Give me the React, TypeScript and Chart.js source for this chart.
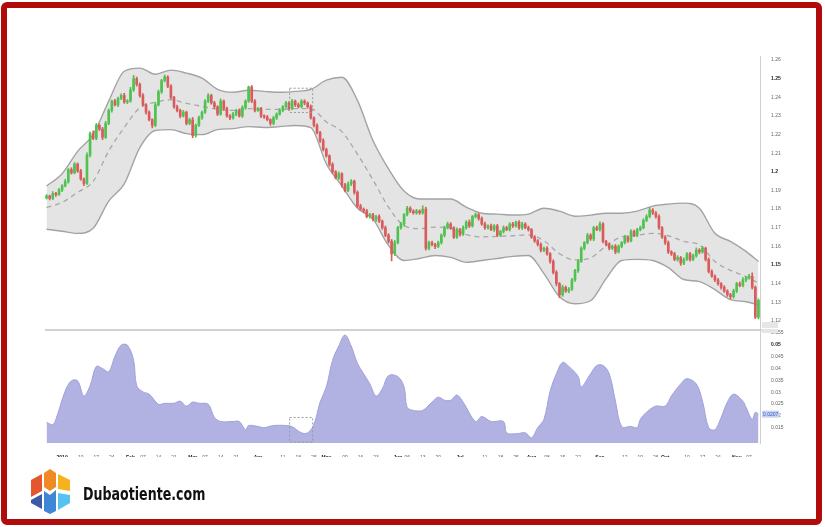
import React, { useEffect, useRef } from "react";
import { Chart, registerables } from "chart.js";
Chart.register(...registerables);

// ---------- DATA ----------
const START_DATE = "2018-12-26"; // first trading day shown (weekdays only)

const opens = [
  1.1860, 1.1870, 1.1858, 1.1884, 1.1878, 1.1902, 1.1925, 1.1948, 1.2012, 1.1995,
  1.2042, 1.2005, 1.1962, 1.1938, 1.2090, 1.2205, 1.2180, 1.2250, 1.2230, 1.2185,
  1.2260, 1.2330, 1.2380, 1.2360, 1.2395, 1.2410, 1.2375, 1.2380, 1.2440, 1.2500,
  1.2470, 1.2410, 1.2360, 1.2320, 1.2280, 1.2250, 1.2360, 1.2430, 1.2490, 1.2510,
  1.2460, 1.2400, 1.2350, 1.2330, 1.2300, 1.2320, 1.2260, 1.2280, 1.2195, 1.2250,
  1.2290, 1.2320, 1.2380, 1.2410, 1.2370, 1.2350, 1.2310, 1.2380, 1.2340, 1.2300,
  1.2290, 1.2310, 1.2330, 1.2300, 1.2345, 1.2380, 1.2455, 1.2380, 1.2330, 1.2340,
  1.2300, 1.2295, 1.2280, 1.2260, 1.2290, 1.2310, 1.2330, 1.2350, 1.2370, 1.2340,
  1.2380, 1.2360, 1.2350, 1.2380, 1.2370, 1.2350, 1.2290, 1.2250, 1.2210, 1.2168,
  1.2120, 1.2086, 1.2040, 1.2000, 1.1968, 1.1990, 1.1930, 1.1900, 1.1935, 1.1950,
  1.1890, 1.1816, 1.1800, 1.1790, 1.1760, 1.1770, 1.1745, 1.1760, 1.1735, 1.1700,
  1.1660, 1.1627, 1.1560, 1.1620, 1.1700, 1.1720, 1.1770, 1.1805, 1.1790, 1.1780,
  1.1790, 1.1780, 1.1800, 1.1590, 1.1620, 1.1610, 1.1600, 1.1620, 1.1660, 1.1700,
  1.1720, 1.1700, 1.1650, 1.1690, 1.1665, 1.1700, 1.1730, 1.1710, 1.1760, 1.1770,
  1.1750, 1.1720, 1.1700, 1.1710, 1.1690, 1.1710, 1.1660, 1.1680, 1.1700, 1.1690,
  1.1720, 1.1710, 1.1730, 1.1700, 1.1720, 1.1700, 1.1690, 1.1650, 1.1630, 1.1610,
  1.1580, 1.1590, 1.1560, 1.1520, 1.1460, 1.1400, 1.1340, 1.1380, 1.1360, 1.1370,
  1.1420, 1.1470, 1.1520, 1.1590, 1.1620, 1.1660, 1.1640, 1.1700, 1.1690, 1.1720,
  1.1627, 1.1610, 1.1590, 1.1600, 1.1570, 1.1600, 1.1620, 1.1650, 1.1630, 1.1680,
  1.1660, 1.1690, 1.1700, 1.1740, 1.1760, 1.1795, 1.1780, 1.1760, 1.1700, 1.1650,
  1.1620, 1.1570, 1.1560, 1.1530, 1.1540, 1.1510, 1.1530, 1.1560, 1.1530, 1.1550,
  1.1580, 1.1570, 1.1590, 1.1530, 1.1465, 1.1440, 1.1420, 1.1400, 1.1380, 1.1360,
  1.1340, 1.1330, 1.1360, 1.1400, 1.1390, 1.1420, 1.1430, 1.1440, 1.1380, 1.1220,
];

const closes = [
  1.1870, 1.1858, 1.1884, 1.1878, 1.1902, 1.1925, 1.1948, 1.2012, 1.1995, 1.2042,
  1.2005, 1.1962, 1.1938, 1.2090, 1.2205, 1.2180, 1.2250, 1.2230, 1.2185, 1.2260,
  1.2330, 1.2380, 1.2360, 1.2395, 1.2410, 1.2375, 1.2380, 1.2440, 1.2500, 1.2470,
  1.2410, 1.2360, 1.2320, 1.2280, 1.2250, 1.2360, 1.2430, 1.2490, 1.2510, 1.2460,
  1.2400, 1.2350, 1.2330, 1.2300, 1.2320, 1.2260, 1.2280, 1.2195, 1.2250, 1.2290,
  1.2320, 1.2380, 1.2410, 1.2370, 1.2350, 1.2310, 1.2380, 1.2340, 1.2300, 1.2290,
  1.2310, 1.2330, 1.2300, 1.2345, 1.2380, 1.2455, 1.2380, 1.2330, 1.2340, 1.2300,
  1.2295, 1.2280, 1.2260, 1.2290, 1.2310, 1.2330, 1.2350, 1.2370, 1.2340, 1.2380,
  1.2360, 1.2350, 1.2380, 1.2370, 1.2350, 1.2290, 1.2250, 1.2210, 1.2168, 1.2120,
  1.2086, 1.2040, 1.2000, 1.1968, 1.1990, 1.1930, 1.1900, 1.1935, 1.1950, 1.1890,
  1.1816, 1.1800, 1.1790, 1.1760, 1.1770, 1.1745, 1.1760, 1.1735, 1.1700, 1.1660,
  1.1627, 1.1560, 1.1620, 1.1700, 1.1720, 1.1770, 1.1805, 1.1790, 1.1780, 1.1790,
  1.1780, 1.1800, 1.1590, 1.1620, 1.1610, 1.1600, 1.1620, 1.1660, 1.1700, 1.1720,
  1.1700, 1.1650, 1.1690, 1.1665, 1.1700, 1.1730, 1.1710, 1.1760, 1.1770, 1.1750,
  1.1720, 1.1700, 1.1710, 1.1690, 1.1710, 1.1660, 1.1680, 1.1700, 1.1690, 1.1720,
  1.1710, 1.1730, 1.1700, 1.1720, 1.1700, 1.1690, 1.1650, 1.1630, 1.1610, 1.1580,
  1.1590, 1.1560, 1.1520, 1.1460, 1.1400, 1.1340, 1.1380, 1.1360, 1.1370, 1.1420,
  1.1470, 1.1520, 1.1590, 1.1620, 1.1660, 1.1640, 1.1700, 1.1690, 1.1720, 1.1627,
  1.1610, 1.1590, 1.1600, 1.1570, 1.1600, 1.1620, 1.1650, 1.1630, 1.1680, 1.1660,
  1.1690, 1.1700, 1.1740, 1.1760, 1.1795, 1.1780, 1.1760, 1.1700, 1.1650, 1.1620,
  1.1570, 1.1560, 1.1530, 1.1540, 1.1510, 1.1530, 1.1560, 1.1530, 1.1550, 1.1580,
  1.1570, 1.1590, 1.1530, 1.1465, 1.1440, 1.1420, 1.1400, 1.1380, 1.1360, 1.1340,
  1.1330, 1.1360, 1.1400, 1.1390, 1.1420, 1.1430, 1.1440, 1.1380, 1.1220, 1.1310,
];

// wick lengths beyond the body, in pips
const upperWickPips = [
  8, 5, 10, 6, 9, 7, 12, 6, 10, 8, 6, 9, 5, 12, 8, 15, 10, 7, 9, 11,
  8, 6, 10, 7, 9, 12, 8, 14, 18, 9, 7, 10, 6, 8, 5, 12, 9, 7, 10, 6,
  8, 5, 9, 7, 10, 6, 8, 12, 7, 9, 6, 8, 10, 7, 9, 5, 12, 6, 8, 7,
  9, 6, 8, 10, 7, 6, 9, 8, 5, 7, 6, 8, 5, 9, 7, 10, 6, 8, 7, 9,
  6, 10, 8, 7, 5, 9, 6, 8, 7, 10, 8, 6, 9, 7, 10, 5, 8, 12, 9, 6,
  8, 10, 6, 9, 7, 8, 6, 10, 7, 9, 8, 10, 12, 7, 9, 6, 10, 8, 7, 9,
  6, 18, 10, 8, 9, 6, 8, 7, 9, 10, 8, 6, 9, 7, 10, 8, 12, 6, 9, 7,
  8, 10, 6, 9, 7, 8, 6, 10, 8, 7, 9, 6, 8, 10, 7, 9, 6, 8, 7, 9,
  6, 9, 7, 8, 10, 6, 12, 7, 9, 8, 7, 9, 8, 6, 10, 8, 7, 9, 12, 8,
  6, 9, 7, 10, 8, 6, 9, 7, 10, 8, 7, 9, 8, 10, 14, 8, 7, 9, 6, 8,
  9, 7, 8, 10, 6, 9, 7, 8, 9, 12, 8, 10, 6, 8, 9, 7, 8, 6, 9, 7,
  8, 10, 7, 9, 12, 8, 10, 18, 7, 8,
];
const lowerWickPips = [
  6, 9, 7, 10, 5, 8, 6, 9, 7, 6, 8, 7, 12, 6, 10, 7, 8, 9, 12, 6,
  7, 9, 6, 10, 8, 7, 9, 6, 8, 10, 9, 7, 10, 6, 14, 8, 6, 9, 7, 8,
  7, 9, 8, 10, 6, 8, 7, 12, 9, 6, 8, 6, 9, 7, 10, 8, 6, 9, 7, 10,
  7, 9, 6, 8, 10, 7, 9, 8, 6, 9, 8, 6, 10, 7, 9, 6, 8, 7, 10, 6,
  9, 7, 6, 10, 8, 7, 9, 6, 10, 8, 7, 10, 8, 6, 9, 12, 8, 7, 9, 10,
  8, 6, 10, 7, 9, 8, 12, 7, 9, 8, 10, 38, 9, 7, 8, 10, 6, 9, 7, 8,
  8, 7, 10, 9, 8, 12, 7, 8, 9, 6, 9, 8, 7, 10, 6, 8, 9, 7, 8, 10,
  7, 9, 8, 6, 10, 8, 7, 9, 6, 8, 8, 7, 9, 10, 6, 8, 7, 9, 8, 10,
  9, 7, 10, 8, 12, 16, 8, 7, 9, 6, 8, 10, 6, 9, 7, 8, 10, 6, 8, 9,
  7, 9, 8, 10, 6, 8, 7, 9, 6, 8, 9, 7, 6, 8, 7, 10, 8, 9, 7, 10,
  8, 9, 7, 10, 12, 8, 6, 9, 7, 8, 10, 7, 9, 8, 6, 9, 8, 10, 7, 9,
  12, 8, 9, 7, 8, 10, 6, 9, 8, 10,
];

// Bollinger bands read every ~5 trading days
const bandIdx = [0, 5, 10, 15, 20, 25, 30, 35, 40, 45, 50, 55, 60, 65, 70, 75, 80, 85, 90, 95,
  100, 105, 110, 115, 120, 125, 130, 135, 140, 145, 150, 155, 160, 165, 170, 175, 180, 185, 190, 195,
  200, 205, 210, 215, 220, 225, 229];
const bandUpper = [1.1924, 1.1990, 1.2110, 1.2200, 1.2380, 1.2540, 1.2557, 1.2524, 1.2546, 1.2530,
  1.2503, 1.2443, 1.2427, 1.2438, 1.2432, 1.2427, 1.2432, 1.2443, 1.2492, 1.2508,
  1.2384, 1.2168, 1.2016, 1.1897, 1.1854, 1.1854, 1.1854, 1.1811, 1.1778, 1.1773,
  1.1768, 1.1773, 1.1805, 1.1789, 1.1762, 1.1768, 1.1778, 1.1778, 1.1789, 1.1816,
  1.1827, 1.1832, 1.1805, 1.1670, 1.1627, 1.1573, 1.1519];
const bandMiddle = [1.1808, 1.1836, 1.1890, 1.1949, 1.2112, 1.2238, 1.2344, 1.2373, 1.2387, 1.2368,
  1.2352, 1.2335, 1.2330, 1.2340, 1.2335, 1.2335, 1.2340, 1.2340, 1.2268, 1.2216,
  1.2095, 1.1957, 1.1811, 1.1711, 1.1695, 1.1703, 1.1698, 1.1663, 1.1651, 1.1654,
  1.1657, 1.1662, 1.1630, 1.1560, 1.1527, 1.1538, 1.1603, 1.1651, 1.1660, 1.1670,
  1.1657, 1.1627, 1.1608, 1.1519, 1.1471, 1.1438, 1.1403];
const bandLower = [1.1692, 1.1681, 1.1670, 1.1697, 1.1843, 1.1935, 1.2130, 1.2222, 1.2227, 1.2205,
  1.2200, 1.2227, 1.2232, 1.2243, 1.2238, 1.2243, 1.2249, 1.2238, 1.2043, 1.1924,
  1.1805, 1.1746, 1.1605, 1.1524, 1.1535, 1.1551, 1.1541, 1.1514, 1.1524, 1.1535,
  1.1546, 1.1551, 1.1454, 1.1330, 1.1292, 1.1308, 1.1427, 1.1524, 1.1530, 1.1524,
  1.1486, 1.1422, 1.1411, 1.1368, 1.1314, 1.1303, 1.1286];

// lower panel indicator (band width)
const bwIdx = [0, 2, 3, 6, 8, 10, 12, 14, 16, 18, 20, 22, 24, 26, 28, 29, 31, 33, 36, 38,
  41, 43, 45, 47, 49, 52, 54, 56, 60, 62, 64, 65, 68, 70, 73, 77, 79, 82, 84, 86,
  88, 90, 92, 94, 96, 98, 100, 102, 104, 106, 108, 110, 113, 115, 116, 118, 121, 124, 126, 128,
  130, 132, 134, 138, 140, 143, 147, 148, 151, 154, 156, 158, 160, 162, 164, 166, 168, 171, 172, 175,
  177, 179, 181, 183, 185, 188, 190, 191, 193, 196, 199, 201, 204, 206, 209, 211, 213, 215, 217, 219,
  221, 224, 225, 227, 228, 229];
const bwValues = [0.0172, 0.0163, 0.0185, 0.0305, 0.0348, 0.0348, 0.0284, 0.0327, 0.0409, 0.0400,
  0.0387, 0.0452, 0.0499, 0.0499, 0.0435, 0.0327, 0.0301, 0.0292, 0.0249, 0.0253,
  0.0253, 0.0262, 0.0241, 0.0258, 0.0253, 0.0249, 0.0193, 0.0176, 0.0176, 0.0176,
  0.0141, 0.0159, 0.0155, 0.0150, 0.0159, 0.0159, 0.0154, 0.0128, 0.0128, 0.0163,
  0.0258, 0.0322, 0.0435, 0.0495, 0.0542, 0.0495, 0.0422, 0.0378, 0.0335, 0.0284,
  0.0314, 0.0370, 0.0366, 0.0322, 0.0236, 0.0223, 0.0223, 0.0258, 0.0279, 0.0266,
  0.0266, 0.0288, 0.0258, 0.0176, 0.0197, 0.0176, 0.0176, 0.0128, 0.0124, 0.0128,
  0.0107, 0.0150, 0.0185, 0.0305, 0.0378, 0.0426, 0.0409, 0.0366, 0.0322, 0.0378,
  0.0413, 0.0413, 0.0378, 0.0262, 0.0155, 0.0155, 0.0150, 0.0185, 0.0215, 0.0241,
  0.0241, 0.0284, 0.0335, 0.0357, 0.0335, 0.0262, 0.0150, 0.0141, 0.0193, 0.0258,
  0.0292, 0.0262, 0.0236, 0.0185, 0.0215, 0.0207];

const xTickDates = [
  "2019-01-02", "2019-01-10", "2019-01-17", "2019-01-24", "2019-02-01", "2019-02-07", "2019-02-14", "2019-02-21",
  "2019-03-01", "2019-03-07", "2019-03-14", "2019-03-21", "2019-04-01", "2019-04-11", "2019-04-18", "2019-04-25",
  "2019-05-01", "2019-05-09", "2019-05-16", "2019-05-23", "2019-06-03", "2019-06-06", "2019-06-13", "2019-06-20",
  "2019-07-01", "2019-07-11", "2019-07-18", "2019-07-25", "2019-08-01", "2019-08-08", "2019-08-15", "2019-08-22",
  "2019-09-02", "2019-09-12", "2019-09-19", "2019-09-26", "2019-10-01", "2019-10-10", "2019-10-17", "2019-10-24",
  "2019-11-01", "2019-11-07",
];
const xTickLabels = [
  "2019", "10", "17", "24", "Feb", "07", "14", "21",
  "Mar", "07", "14", "21", "Apr", "11", "18", "25",
  "May", "09", "16", "23", "Jun", "06", "13", "20",
  "Jul", "11", "18", "25", "Aug", "08", "15", "22",
  "Sep", "12", "19", "26", "Oct", "10", "17", "24",
  "Nov", "07",
];
const priceTicks = [1.12, 1.13, 1.14, 1.15, 1.16, 1.17, 1.18, 1.19, 1.2, 1.21, 1.22, 1.23, 1.24, 1.25, 1.26];
const boldPriceTicks = [1.15, 1.2, 1.25];
const bwTicks = [0.015, 0.02, 0.025, 0.03, 0.035, 0.04, 0.045, 0.05, 0.055];
const boldBwTicks = [0.05];

// ---------- helpers ----------
function tradingDates(start: string, n: number): string[] {
  const [y, m, d] = start.split("-").map(Number);
  let t = Date.UTC(y, m - 1, d);
  const out: string[] = [];
  while (out.length < n) {
    const dt = new Date(t);
    const wd = dt.getUTCDay();
    if (wd !== 0 && wd !== 6) out.push(dt.toISOString().slice(0, 10));
    t += 86400000;
  }
  return out;
}

const GREEN = "#4fc24f";
const RED = "#d95c5c";

export default function App() {
  const ref = useRef<HTMLCanvasElement | null>(null);

  useEffect(() => {
    const canvas = ref.current;
    if (!canvas) return;
    const n = closes.length;
    const dates = tradingDates(START_DATE, n);
    const labelByIdx = new Map<number, string>();
    const tickIdx: number[] = [];
    xTickDates.forEach((d, k) => {
      const i = dates.indexOf(d);
      if (i >= 0) {
        labelByIdx.set(i, xTickLabels[k]);
        tickIdx.push(i);
      }
    });

    const colors = closes.map((c, i) => (c >= opens[i] ? GREEN : RED));
    const bodies = closes.map((c, i) => ({ x: i, y: [opens[i], c] }));
    const wicks = closes.map((c, i) => ({
      x: i,
      y: [Math.min(opens[i], c) - lowerWickPips[i] / 10000, Math.max(opens[i], c) + upperWickPips[i] / 10000],
    }));
    const pts = (xs: number[], ys: number[]) => xs.map((x, k) => ({ x, y: ys[k] }));

    const overlay = {
      id: "overlay",
      afterDatasetsDraw(chart: any) {
        const { ctx, chartArea, scales } = chart;
        const x = scales.x, y = scales.y, y2 = scales.y2;
        const sep = y.top < y2.top ? y.bottom : y.top;
        ctx.save();
        // separator between panes
        ctx.strokeStyle = "#d2d2d2";
        ctx.lineWidth = 2;
        ctx.beginPath();
        ctx.moveTo(chartArea.left, sep);
        ctx.lineTo(chartArea.right + 2, sep);
        ctx.stroke();
        // dashed highlight boxes
        ctx.strokeStyle = "#9a9a9a";
        ctx.lineWidth = 1;
        ctx.setLineDash([2, 2]);
        const xl = x.getPixelForValue(78.2), xr = x.getPixelForValue(85.6);
        const t1 = y.getPixelForValue(1.2449), b1 = y.getPixelForValue(1.2319);
        ctx.strokeRect(xl, t1, xr - xl, b1 - t1);
        const t2 = y2.getPixelForValue(0.0193), b2 = y2.bottom - 1;
        ctx.strokeRect(xl, t2, xr - xl, b2 - t2);
        ctx.setLineDash([]);
        // last value tag on the lower axis
        const last = bwValues[bwValues.length - 1];
        const ly = y2.getPixelForValue(last);
        ctx.fillStyle = "#c9d3f2";
        ctx.fillRect(chartArea.right + 2, ly - 3.5, 17, 7);
        ctx.fillStyle = "#3a5bc7";
        ctx.font = "5px 'Liberation Sans', Arial, sans-serif";
        ctx.textBaseline = "middle";
        ctx.fillText(last.toFixed(4), chartArea.right + 3, ly);
        // small grey tags at the pane boundary
        ctx.fillStyle = "#e6e6e6";
        ctx.fillRect(chartArea.right + 2, sep - 8, 16, 6);
        ctx.fillRect(chartArea.right + 2, sep - 1, 16, 4);
        ctx.restore();
      },
    };

    const tickFont = (bold: boolean) => ({
      family: "'Liberation Sans', Arial, sans-serif",
      size: 5,
      weight: bold ? ("bold" as const) : ("normal" as const),
    });

    const chart = new Chart(canvas, {
      type: "bar",
      data: {
        datasets: [
          {
            type: "bar",
            data: bodies as any,
            backgroundColor: colors,
            barThickness: 2,
            minBarLength: 1,
            grouped: false,
            borderWidth: 0,
            order: 0,
            yAxisID: "y",
          },
          {
            type: "bar",
            data: wicks as any,
            backgroundColor: colors,
            barThickness: 1,
            grouped: false,
            borderWidth: 0,
            order: 1,
            yAxisID: "y",
          },
          {
            type: "line",
            data: pts(bandIdx, bandMiddle) as any,
            borderColor: "#a8a8a8",
            borderWidth: 1.3,
            borderDash: [5, 4],
            pointRadius: 0,
            cubicInterpolationMode: "monotone",
            fill: false,
            order: 2,
            yAxisID: "y",
          },
          {
            type: "line",
            data: pts(bandIdx, bandUpper) as any,
            borderColor: "#a3a3a3",
            borderWidth: 1.4,
            pointRadius: 0,
            cubicInterpolationMode: "monotone",
            fill: false,
            order: 3,
            yAxisID: "y",
          },
          {
            type: "line",
            data: pts(bandIdx, bandLower) as any,
            borderColor: "#a3a3a3",
            borderWidth: 1.4,
            pointRadius: 0,
            cubicInterpolationMode: "monotone",
            fill: 3,
            backgroundColor: "#e4e4e4",
            order: 4,
            yAxisID: "y",
          },
          {
            type: "line",
            data: pts(bwIdx, bwValues) as any,
            borderColor: "#9ea1da",
            borderWidth: 1,
            pointRadius: 0,
            tension: 0.35,
            fill: "start",
            backgroundColor: "#b1b2e2",
            order: 5,
            yAxisID: "y2",
          },
        ],
      },
      options: {
        animation: false,
        responsive: false,
        maintainAspectRatio: false,
        events: [],
        layout: { padding: { left: 45, right: 35, top: 56, bottom: 13 } },
        plugins: { legend: { display: false }, tooltip: { enabled: false } },
        scales: {
          x: {
            type: "linear",
            min: -0.5,
            max: n - 0.5,
            offset: false,
            grid: { display: false },
            border: { display: false },
            afterBuildTicks: (s: any) => {
              s.ticks = tickIdx.map((v) => ({ value: v }));
            },
            afterFit: (s: any) => {
              s.height = 14;
            },
            ticks: {
              autoSkip: false,
              maxRotation: 0,
              minRotation: 0,
              padding: 4,
              color: (c: any) => (/^[A-Z]|2019/.test(labelByIdx.get(c.tick?.value) || "") ? "#222" : "#666"),
              font: (c: any) => tickFont(/^[A-Z]|2019/.test(labelByIdx.get(c.tick?.value) || "")),
              callback: (v: any) => labelByIdx.get(Number(v)) ?? "",
            },
          },
          y: {
            type: "linear",
            position: "right",
            stack: "panes",
            stackWeight: 274,
            min: 1.1151,
            max: 1.2622,
            grid: { display: false },
            border: { display: true, color: "#cfcfcf", width: 1 },
            afterBuildTicks: (s: any) => {
              s.ticks = priceTicks.map((v) => ({ value: v }));
            },
            afterFit: (s: any) => {
              s.width = 30;
            },
            ticks: {
              autoSkip: false,
              padding: 3,
              color: (c: any) => (boldPriceTicks.includes(c.tick?.value) ? "#222" : "#666"),
              font: (c: any) => tickFont(boldPriceTicks.includes(c.tick?.value)),
              callback: (v: any) => String(Math.round(Number(v) * 1000) / 1000),
            },
          },
          y2: {
            type: "linear",
            position: "right",
            stack: "panes",
            stackWeight: 113,
            min: 0.0085,
            max: 0.0563,
            grid: { display: false },
            border: { display: true, color: "#cfcfcf", width: 1 },
            afterBuildTicks: (s: any) => {
              s.ticks = bwTicks.map((v) => ({ value: v }));
            },
            afterFit: (s: any) => {
              s.width = 30;
            },
            ticks: {
              autoSkip: false,
              padding: 3,
              color: (c: any) => (boldBwTicks.includes(c.tick?.value) ? "#222" : "#666"),
              font: (c: any) => tickFont(boldBwTicks.includes(c.tick?.value)),
              callback: (v: any) => String(Math.round(Number(v) * 100000) / 100000),
            },
          },
        },
      } as any,
      plugins: [overlay],
    });
    return () => chart.destroy();
  }, []);

  return (
    <div style={{ position: "fixed", left: 0, top: 0, width: 825, height: 527, background: "#fff", overflow: "hidden" }}>
      <canvas ref={ref} width={825} height={470} style={{ position: "absolute", left: 0, top: 0, width: 825, height: 470 }} />
      <svg width={825} height={527} style={{ position: "absolute", left: 0, top: 0, pointerEvents: "none" }}>
        <polygon points="31,480 42,474 42,491 31,497" fill="#e4572e" />
        <polygon points="44,473 50,469 56,473 56,487 50,491 44,487" fill="#f08a24" />
        <polygon points="58,474 70,480 70,491 58,489" fill="#f6b21d" />
        <polygon points="31,500 42,494 42,509 31,503" fill="#3c5aa8" />
        <polygon points="44,491 50,495 56,490 56,511 50,514 44,511" fill="#3f86d6" />
        <polygon points="58,493 70,495 70,503 58,510" fill="#55c2f0" />
      </svg>
      <div
        style={{
          position: "absolute",
          left: 83,
          top: 485,
          font: 'bold 18px "Liberation Sans Narrow", "DejaVu Sans Condensed", "Roboto", sans-serif',
          lineHeight: "18px",
          color: "#111",
          whiteSpace: "nowrap",
          transform: "scaleX(0.78)",
          transformOrigin: "0 0",
        }}
      >
        Dubaotiente.com
      </div>
      <div
        style={{
          position: "absolute",
          left: 1,
          top: 2,
          width: 821,
          height: 523,
          boxSizing: "border-box",
          border: "6px solid #b00c0c",
          borderRadius: 6,
          pointerEvents: "none",
        }}
      />
    </div>
  );
}
